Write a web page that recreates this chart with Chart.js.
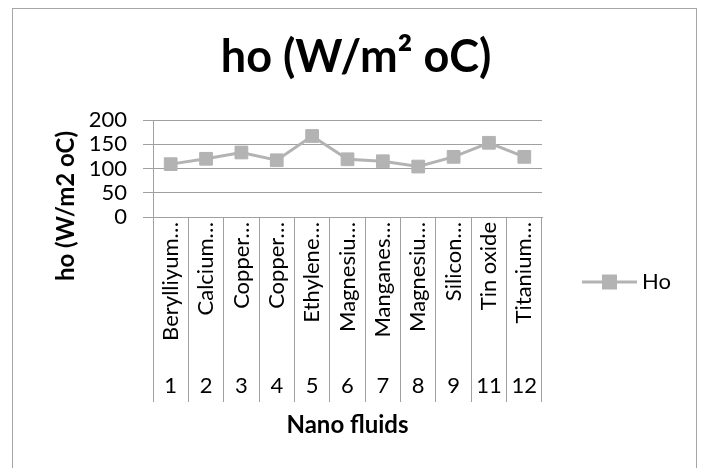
<!DOCTYPE html>
<html>
<head>
<meta charset="utf-8">
<script src="https://cdn.jsdelivr.net/npm/chart.js@4/dist/chart.umd.min.js"></script>
<style>
  html, body { margin: 0; padding: 0; background: #fff; }
  #wrap { position: relative; width: 702px; height: 468px; }
</style>
</head>
<body>
<div id="wrap"><canvas id="c" width="702" height="468"></canvas></div>
<script>
// ---- data ----
const categoryNumbers = ['1', '2', '3', '4', '5', '6', '7', '8', '9', '11', '12'];
const categoryNames = ['Berylliyum…', 'Calcium…', 'Copper…', 'Copper…', 'Ethylene…', 'Magnesiu…', 'Manganes…', 'Magnesiu…', 'Silicon…', 'Tin oxide', 'Titanium…'];
const hoValues = [109, 120, 133, 117, 167, 119, 115, 104, 124, 153, 124];
const seriesName = 'Ho';
const chartTitle = 'ho (W/m² oC)';
const yTitle = 'ho (W/m2 oC)';
const xTitle = 'Nano fluids';
const yTicks = [0, 50, 100, 150, 200];

// ---- styles ----
const FONT = 'Lato';
const GRID = '#a0a0a0';
const SERIES = '#b3b3b3';
const PAD_L = 18, PAD_R = 8;
const PLOT_RIGHT = 542;

Chart.defaults.font.family = FONT;
Chart.defaults.color = '#000';

// legend symbol: line with square marker
const sym = document.createElement('canvas');
sym.width = 55; sym.height = 16;
(function () {
  const g = sym.getContext('2d');
  g.strokeStyle = SERIES; g.lineWidth = 3;
  g.beginPath(); g.moveTo(0, 8); g.lineTo(55, 8); g.stroke();
  g.fillStyle = SERIES; g.fillRect(20, 0.5, 15, 15);
})();

const borderPlugin = {
  id: 'outerBorder',
  beforeDraw(chart) {
    const ctx = chart.ctx;
    ctx.save();
    ctx.strokeStyle = '#a6a6a6';
    ctx.lineWidth = 1;
    ctx.strokeRect(12.5, 8.5, 684, 500);
    ctx.restore();
  }
};

const legendWidthPlugin = {
  id: 'legendWidth',
  afterInit(chart) {
    const lg = chart.legend;
    if (!lg) return;
    const orig = lg.fit;
    lg.fit = function () {
      orig.call(this);
      this.width = chart.width - PAD_R - PLOT_RIGHT;
    };
  }
};

const yTitlePlugin = {
  id: 'yTitle',
  afterDraw(chart) {
    const ctx = chart.ctx;
    ctx.save();
    ctx.translate(66, 206);
    ctx.rotate(-Math.PI / 2);
    ctx.font = 'bold 24px ' + FONT;
    ctx.fillStyle = '#000';
    ctx.textAlign = 'center';
    ctx.textBaseline = 'middle';
    ctx.fillText(yTitle, 0, 0);
    ctx.restore();
  }
};

new Chart(document.getElementById('c'), {
  type: 'line',
  data: {
    labels: categoryNames,
    datasets: [{
      label: seriesName,
      data: hoValues,
      borderColor: SERIES,
      backgroundColor: SERIES,
      borderWidth: 3,
      tension: 0,
      pointStyle: 'rect',
      pointRadius: 9,
      pointBorderWidth: 1,
      pointBackgroundColor: SERIES,
      pointBorderColor: SERIES,
      xAxisID: 'x',
      yAxisID: 'y'
    }]
  },
  options: {
    responsive: false,
    animation: false,
    events: [],
    layout: { padding: { left: PAD_L, right: PAD_R, top: 9, bottom: 0 } },
    plugins: {
      title: {
        display: true,
        text: chartTitle,
        color: '#000',
        font: { family: FONT, size: 45, weight: 'bold' },
        padding: { top: 21, bottom: 36 }
      },
      legend: {
        display: true,
        position: 'right',
        title: { display: true, text: ' ', font: { size: 10 }, padding: { top: 75, bottom: 0 } },
        labels: {
          usePointStyle: true,
          pointStyleWidth: 43,
          padding: 46,
          color: '#000',
          font: { family: FONT, size: 22 },
          generateLabels() {
            return [{ text: seriesName, pointStyle: sym, fillStyle: SERIES, strokeStyle: SERIES, lineWidth: 0, datasetIndex: 0, hidden: false }];
          }
        }
      },
      tooltip: { enabled: false }
    },
    scales: {
      y: {
        min: 0, max: 200,
        afterFit(s) { s.width = 153 - PAD_L; },
        afterBuildTicks(s) { s.ticks = yTicks.map(v => ({ value: v })); },
        ticks: { autoSkip: false, stepSize: 50, padding: 16, font: { family: FONT, size: 22 }, color: '#000' },
        grid: { color: GRID, lineWidth: 1, tickLength: 10, drawTicks: true },
        border: { display: true, color: GRID, width: 1 }
      },
      x: {
        type: 'category',
        position: 'bottom',
        weight: 0,
        offset: true,
        afterFit(s) { s.height = 133; },
        ticks: { autoSkip: false, minRotation: 90, maxRotation: 90, padding: -128, font: { family: FONT, size: 22 }, color: '#000' },
        grid: { offset: true, drawOnChartArea: false, drawTicks: true, tickLength: 133, color: GRID },
        border: { display: true, color: GRID }
      },
      x2: {
        type: 'category',
        position: 'bottom',
        weight: 1,
        offset: true,
        labels: categoryNumbers,
        afterFit(s) { s.height = 118; },
        ticks: { autoSkip: false, maxRotation: 0, minRotation: 0, padding: -29.2, font: { family: FONT, size: 22 }, color: '#000' },
        grid: { offset: true, drawOnChartArea: false, drawTicks: true, tickLength: 52, color: GRID },
        border: { display: false },
        title: { display: true, text: xTitle, color: '#000', font: { family: FONT, size: 24, weight: 'bold' }, padding: { top: 0, bottom: 28.6 } }
      }
    }
  },
  plugins: [borderPlugin, legendWidthPlugin, yTitlePlugin]
});
</script>
</body>
</html>
